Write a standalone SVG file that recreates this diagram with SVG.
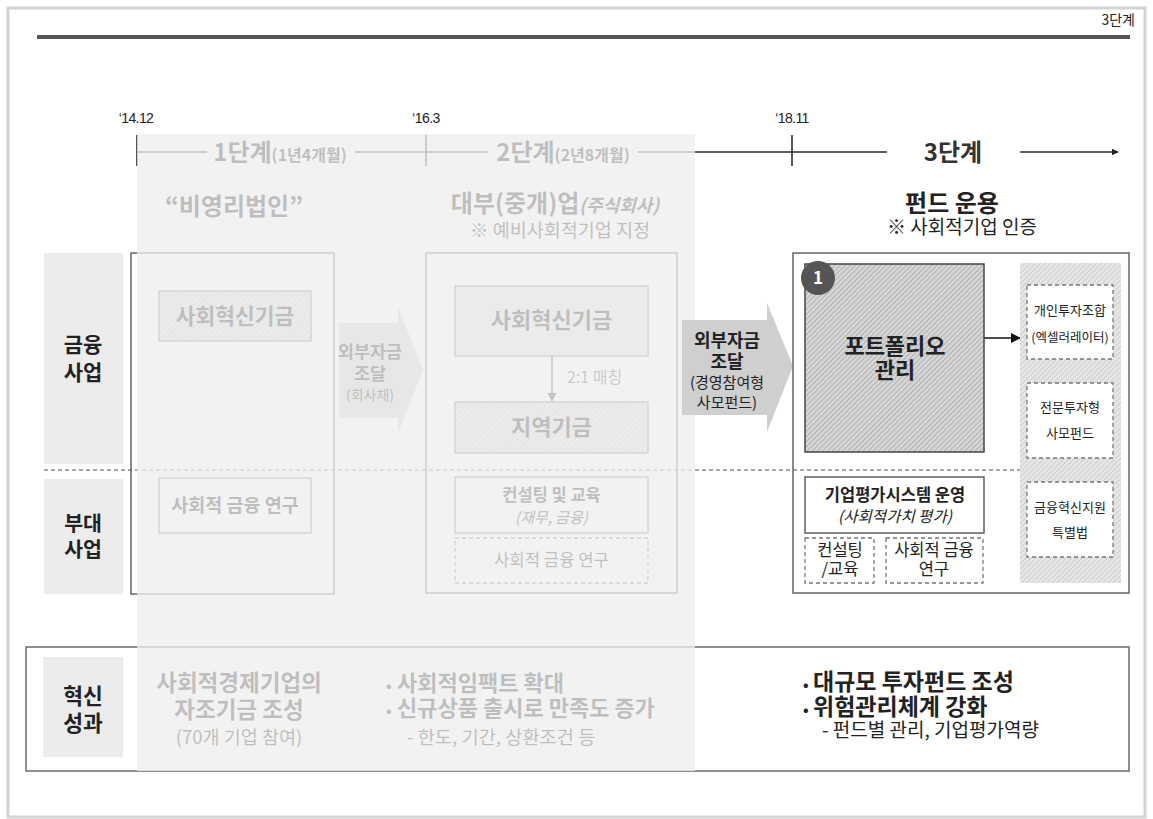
<svg xmlns="http://www.w3.org/2000/svg" width="1153" height="819" viewBox="0 0 1153 819">
<defs>
<style>
text{font-family:'Noto Sans CJK KR','Noto Sans CJK SC',sans-serif;fill:#222}
.b{font-weight:700}
.it{font-style:italic}
.c{text-anchor:middle}
.num{font-family:'Liberation Sans',Arial,sans-serif;font-size:14px;letter-spacing:-0.6px;text-anchor:middle;fill:#222}
.box{fill:none;stroke:#666;stroke-width:1.5}
.ibox{fill:#fff;stroke:#777;stroke-width:1.3}
.dbox{fill:#fff;stroke:#777;stroke-width:1.3;stroke-dasharray:4 3}
.lbl{fill:#ececec}
.tl{stroke:#2b2b2b;stroke-width:1.6;fill:none}
</style>
<pattern id="hLight" width="4" height="4" patternUnits="userSpaceOnUse" patternTransform="rotate(45)">
<rect width="4" height="4" fill="#dedede"/><line x1="0" y1="0" x2="0" y2="4" stroke="#a8a8a8" stroke-width="1"/>
</pattern>
<pattern id="hDark" width="3.6" height="4" patternUnits="userSpaceOnUse" patternTransform="rotate(45)">
<rect width="3.6" height="4" fill="#d6d6d6"/><line x1="0" y1="0" x2="0" y2="4" stroke="#8c8c8c" stroke-width="1"/>
</pattern>
<pattern id="hCol" width="3.6" height="4" patternUnits="userSpaceOnUse" patternTransform="rotate(45)">
<rect width="3.6" height="4" fill="#e6e6e6"/><line x1="0" y1="0" x2="0" y2="4" stroke="#b8b8b8" stroke-width="1"/>
</pattern>
<marker id="ah" viewBox="0 0 10 10" refX="9" refY="5" markerWidth="7" markerHeight="7" markerUnits="userSpaceOnUse" orient="auto">
<path d="M0,0 L10,5 L0,10 z" fill="#222"/>
</marker>
<marker id="ahg" viewBox="0 0 10 10" refX="9" refY="5" markerWidth="9" markerHeight="9" markerUnits="userSpaceOnUse" orient="auto">
<path d="M0,0 L10,5 L0,10 z" fill="#444"/>
</marker>
<marker id="ahb" viewBox="0 0 10 10" refX="9" refY="5" markerWidth="10" markerHeight="10" markerUnits="userSpaceOnUse" orient="auto">
<path d="M0,0 L10,5 L0,10 z" fill="#111"/>
</marker>
</defs>

<rect x="8" y="8" width="1137" height="809" fill="#fff" stroke="#d4d4d4" stroke-width="3"/>
<line x1="37" y1="37" x2="1130" y2="37" stroke="#555" stroke-width="4"/>
<text x="1135" y="25" font-size="14" style="text-anchor:end">3단계</text>

<g id="connectors">
<line class="tl" x1="137" y1="152" x2="207" y2="152"/>
<line class="tl" x1="355" y1="152" x2="488" y2="152"/>
<line class="tl" x1="638" y1="152" x2="887" y2="152"/>
<line class="tl" x1="1020" y1="152" x2="1118" y2="152" marker-end="url(#ah)"/>
<line class="tl" x1="137" y1="135" x2="137" y2="166"/>
<line class="tl" x1="426" y1="135" x2="426" y2="166"/>
<line class="tl" x1="792" y1="135" x2="792" y2="166"/>
<line x1="44" y1="470" x2="1020" y2="470" stroke="#8a8a8a" stroke-width="1.3" stroke-dasharray="4 3"/>
<line x1="552" y1="356" x2="552" y2="401" stroke="#444" stroke-width="1.5" marker-end="url(#ahg)"/>
<line x1="984" y1="338" x2="1020" y2="338" stroke="#111" stroke-width="1.6" marker-end="url(#ahb)"/>
</g>

<g id="timeline-labels">
<text class="num" x="136" y="123">‘14.12</text>
<text class="num" x="426" y="123">‘16.3</text>
<text class="num" x="792" y="123">‘18.11</text>
<text class="b c" x="280" y="161" font-size="24">1단계<tspan font-size="16">(1년4개월)</tspan></text>
<text class="b c" x="563" y="161" font-size="24">2단계<tspan font-size="16">(2년8개월)</tspan></text>
<text class="b c" x="234" y="214.5" font-size="24">“비영리법인”</text>
<text class="b c" x="555" y="211.5" font-size="24">대부(중개)업<tspan class="it" font-size="18">(주식회사)</tspan></text>
<text class="c" x="560" y="237" font-size="18.5">※ 예비사회적기업 지정</text>
</g>

<g id="label-finance">
<rect class="lbl" x="44" y="253" width="79" height="211"/>
<text class="b c" x="83" y="352" font-size="21">금융</text>
<text class="b c" x="83" y="380" font-size="21">사업</text>
</g>
<g id="label-sub">
<rect class="lbl" x="44" y="479" width="79" height="115"/>
<text class="b c" x="83" y="531" font-size="20.5">부대</text>
<text class="b c" x="83" y="557" font-size="20.5">사업</text>
</g>

<g id="stage1">
<rect class="box" x="131" y="253" width="203" height="341"/>
<rect x="159" y="291" width="152" height="50" fill="url(#hLight)" stroke="#777" stroke-width="1.3"/>
<text class="b c" x="235" y="323.5" font-size="21.5">사회혁신기금</text>
<rect class="ibox" x="159" y="478" width="152" height="55"/>
<text class="b c" x="235" y="511.5" font-size="18.5">사회적 금융 연구</text>
</g>

<g id="arrow1">
<polygon points="339,323 398,323 398,307 423,370 398,433 398,418 339,418" fill="#cdcdcd"/>
<text class="b c" x="370" y="358" font-size="17.5">외부자금</text>
<text class="b c" x="370" y="379.5" font-size="17.5">조달</text>
<text class="c" x="370" y="399.5" font-size="14">(회사채)</text>
</g>

<g id="stage2">
<rect class="box" x="426" y="253" width="251" height="340"/>
<rect x="455" y="286" width="193" height="70" fill="#e2e2e2" stroke="#777" stroke-width="1.3"/>
<text class="b c" x="551.5" y="328" font-size="22">사회혁신기금</text>
<text x="567" y="383" font-size="16" style="fill:#555">2:1 매칭</text>
<rect x="455" y="402" width="193" height="51" fill="url(#hLight)" stroke="#777" stroke-width="1.3"/>
<text class="b c" x="551.5" y="435" font-size="22">지역기금</text>
<rect class="ibox" x="455" y="477" width="193" height="56"/>
<text class="b c" x="551.5" y="501" font-size="16.5">컨설팅 및 교육</text>
<text class="it c" x="551.5" y="523" font-size="15">(재무, 금융)</text>
<rect class="dbox" x="455" y="538" width="193" height="45"/>
<text class="c" x="551.5" y="566" font-size="16.7">사회적 금융 연구</text>
</g>

<g id="result-box">
<rect x="26" y="647" width="1103" height="124" fill="#fff" stroke="#6a6a6a" stroke-width="1.5"/>
<rect class="lbl" x="43" y="657" width="80" height="100"/>
<text class="b c" x="83" y="704" font-size="21.5">혁신</text>
<text class="b c" x="83" y="731" font-size="21.5">성과</text>
<text class="b c" x="239" y="691" font-size="22.5">사회적경제기업의</text>
<text class="b c" x="239" y="718" font-size="22.5">자조기금 조성</text>
<text class="c" x="239" y="744" font-size="18.5">(70개 기업 참여)</text>
<text class="b" y="691" font-size="22"><tspan x="386" font-size="15">•</tspan><tspan x="397">사회적임팩트 확대</tspan></text>
<text class="b" y="716" font-size="22"><tspan x="386" font-size="15">•</tspan><tspan x="397">신규상품 출시로 만족도 증가</tspan></text>
<text x="407" y="744" font-size="18.7">- 한도, 기간, 상환조건 등</text>
</g>

<rect id="fade" x="137" y="134" width="558" height="637" fill="#eeeeee" fill-opacity="0.77"/>

<g id="arrow2">
<polygon points="682,320 767,320 767,303 793,366 767,432 767,415 682,415" fill="#cfcfcf"/>
<text class="b c" x="727" y="346.5" font-size="18">외부자금</text>
<text class="b c" x="727" y="367.5" font-size="18">조달</text>
<text class="c" x="727" y="388" font-size="15">(경영참여형</text>
<text class="c" x="727" y="408" font-size="15">사모펀드)</text>
</g>

<g id="stage3-head">
<text class="b c" x="953" y="161" font-size="24" style="fill:#333">3단계</text>
<text class="b c" x="952" y="212" font-size="24">펀드 운용</text>
<text class="c" x="962" y="234" font-size="19">※ 사회적기업 인증</text>
</g>

<g id="stage3">
<rect x="793" y="253" width="336" height="340" fill="none" stroke="#666" stroke-width="1.5"/>
</g>
<g id="portfolio">
<rect x="805" y="264" width="179" height="188" fill="url(#hDark)" stroke="#444" stroke-width="1.5"/>
<circle cx="818" cy="278" r="17" fill="#555"/>
<text class="b c" x="818" y="284" font-size="17" style="fill:#fff">1</text>
<text class="b c" x="895" y="354" font-size="22">포트폴리오</text>
<text class="b c" x="895" y="378" font-size="22">관리</text>
</g>
<g id="channels">
<rect x="1020" y="263" width="101" height="320" fill="url(#hCol)"/>
<rect class="dbox" x="1027" y="285" width="86" height="74"/>
<text class="c" x="1070" y="314.5" font-size="13">개인투자조합</text>
<text class="c" x="1070" y="341.5" font-size="12.5">(엑셀러레이터)</text>
<rect class="dbox" x="1027" y="383" width="86" height="75"/>
<text class="c" x="1070" y="411.5" font-size="13">전문투자형</text>
<text class="c" x="1070" y="437.5" font-size="13">사모펀드</text>
<rect class="dbox" x="1027" y="482" width="86" height="75"/>
<text class="c" x="1070" y="511.5" font-size="13">금융혁신지원</text>
<text class="c" x="1070" y="536.5" font-size="13">특별법</text>
</g>
<g id="evaluation">
<rect x="805" y="477" width="179" height="56" fill="#fff" stroke="#555" stroke-width="1.4"/>
<text class="b c" x="895" y="501" font-size="16.5">기업평가시스템 운영</text>
<text class="it c" x="895" y="522" font-size="15.5">(사회적가치 평가)</text>
</g>
<g id="consult3">
<rect class="dbox" x="805" y="538" width="69" height="45"/>
<text class="c" x="840" y="556" font-size="16.5">컨설팅</text>
<text class="c" x="840" y="575" font-size="16.5">/교육</text>
</g>
<g id="research3">
<rect class="dbox" x="886" y="538" width="97" height="45"/>
<text class="c" x="934" y="556" font-size="16.5">사회적 금융</text>
<text class="c" x="934" y="575" font-size="16.5">연구</text>
</g>
<g id="result3">
<text class="b" y="690" font-size="23"><tspan x="803" font-size="15">•</tspan><tspan x="813">대규모 투자펀드 조성</tspan></text>
<text class="b" y="715" font-size="23"><tspan x="803" font-size="15">•</tspan><tspan x="813">위험관리체계 강화</tspan></text>
<text x="822" y="737" font-size="19">- 펀드별 관리, 기업평가역량</text>
</g>
</svg>
